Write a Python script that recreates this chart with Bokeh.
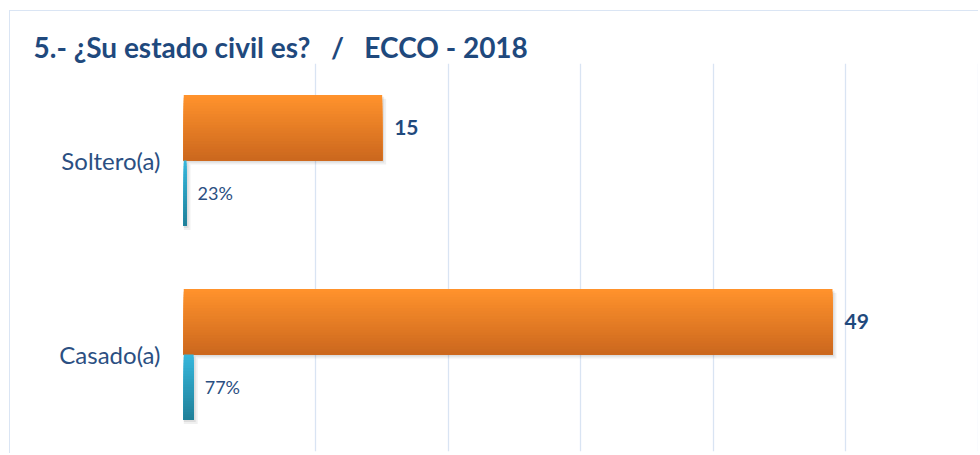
from bokeh.plotting import figure
from bokeh.models import FactorRange, Range1d, FixedTicker, ColumnDataSource
from bokeh.core.properties import value
from bokeh.embed import file_html
from bokeh.resources import INLINE

# ---- data ----
categories = ["Soltero(a)", "Casado(a)"]
counts = [15, 49]
shares = [0.23, 0.77]
count_labels = ["15", "49"]
share_labels = ["23%", "77%"]
grid_ticks = [0, 10, 20, 30, 40, 50, 60]
title_text = "5.- \u00bfSu estado civil es?\u00a0\u00a0 /\u00a0\u00a0 ECCO - 2018"

# ---- style ----
BAR_H = 0.338
N = 24
DARK = "#1f497d"
MID = "#2b4f82"


def lerp(c1, c2, t):
    return "#%02x%02x%02x" % tuple(int(round(a + (b - a) * t)) for a, b in zip(c1, c2))


def strips(cats, vals, sign, top_rgb, bot_rgb):
    # nested rectangles: strip k spans from bar bottom up to (top - k*step)
    ys, hs, rights, colors = [], [], [], []
    step = BAR_H / N
    for c, v in zip(cats, vals):
        top = BAR_H if sign > 0 else 0.0
        bottom = top - BAR_H
        for k in range(N):
            t_k = top - k * step
            ys.append((c, (t_k + bottom) / 2))
            hs.append(t_k - bottom)
            rights.append(v)
            colors.append(lerp(top_rgb, bot_rgb, k / (N - 1)))
    return ColumnDataSource(dict(y=ys, h=hs, right=rights, color=colors))


def shadow(cats, vals, sign, dx, dy):
    ys = [(c, sign * BAR_H / 2 + dy) for c in cats]
    return ColumnDataSource(dict(y=ys, right=[v + dx for v in vals]))


p = figure(width=969, height=443, output_backend="svg", toolbar_location=None,
           y_range=FactorRange(factors=categories[::-1], range_padding=0),
           x_range=Range1d(0, 60.1),
           min_border_left=173, min_border_right=0, min_border_top=52, min_border_bottom=3)
p.styles = {"margin-left": "9px", "margin-top": "10px",
            "border-left": "1.5px solid #dae5f4", "border-top": "1.5px solid #dae5f4"}

p.title.text = title_text
p.title.text_font = "Lato"
p.title.text_font_size = "28px"
p.title.text_font_style = "bold"
p.title.text_color = DARK
p.title.align = "left"
p.title.offset = -150
p.title.standoff = 0

p.xaxis.visible = False
p.yaxis.axis_line_color = None
p.yaxis.major_tick_line_color = None
p.yaxis.minor_tick_line_color = None
p.yaxis.major_tick_out = 0
p.yaxis.major_tick_in = 0
p.yaxis.major_label_text_font = "Lato"
p.yaxis.major_label_text_font_size = "24px"
p.yaxis.major_label_text_color = MID
p.yaxis.major_label_standoff = 23

p.xgrid.ticker = FixedTicker(ticks=grid_ticks)
p.xgrid.grid_line_color = "#d9e4f3"
p.xgrid.grid_line_width = 1.3
p.ygrid.visible = False
p.outline_line_color = None

# shadows
for dx, dy, a in [(0.3, -0.02, 0.06), (0.15, -0.01, 0.08)]:
    p.hbar(y="y", left=0, right="right", height=BAR_H, source=shadow(categories, counts, 1, dx, dy),
           fill_color="#000000", fill_alpha=a, line_color=None)
    p.hbar(y="y", left=0, right="right", height=BAR_H, source=shadow(categories, shares, -1, dx, dy),
           fill_color="#000000", fill_alpha=a, line_color=None)

# gradient bars
p.hbar(y="y", left=0, right="right", height="h",
       source=strips(categories, counts, 1, (255, 146, 44), (204, 104, 30)),
       fill_color="color", line_color=None)
p.hbar(y="y", left=0, right="right", height="h",
       source=strips(categories, shares, -1, (54, 182, 219), (32, 128, 153)),
       fill_color="color", line_color=None)

# labels
lab1 = ColumnDataSource(dict(x=counts, y=[(c, BAR_H / 2) for c in categories], t=count_labels))
p.text(x="x", y="y", text="t", source=lab1, x_offset=12, text_baseline="middle",
       text_font=value("Lato"), text_font_style="bold", text_font_size="21px", text_color=DARK)
lab2 = ColumnDataSource(dict(x=shares, y=[(c, -BAR_H / 2) for c in categories], t=share_labels))
p.text(x="x", y="y", text="t", source=lab2, x_offset=11, text_baseline="middle",
       text_font=value("Lato"), text_font_size="18px", text_color=MID)

open("out.html", "w").write(file_html(p, INLINE))
